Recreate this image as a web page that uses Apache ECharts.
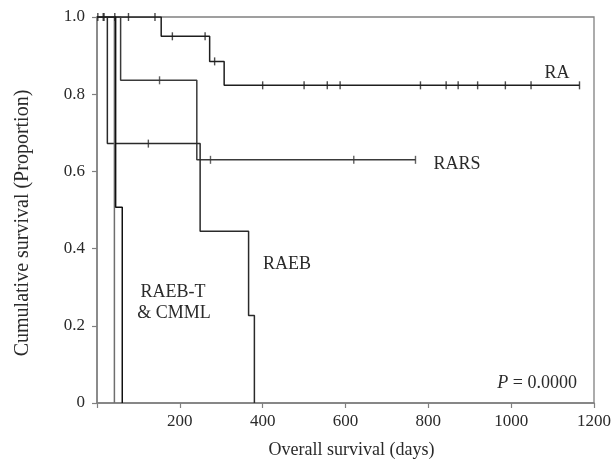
<!DOCTYPE html>
<html>
<head>
<meta charset="utf-8">
<script src="https://cdn.jsdelivr.net/npm/echarts@6/dist/echarts.min.js"></script>
<style>
html,body{margin:0;padding:0;background:#fff;}
#chart{width:614px;height:464px;}
</style>
</head>
<body>
<div id="chart"></div>
<script>
// step curves: [day, cumulative survival]
var raCurve = [[0, 1], [155, 0.95], [272, 0.885], [307, 0.823], [1165, 0.823]];
var rarsCurve = [[0, 1], [57, 0.836], [241, 0.63], [769, 0.63]];
var raebCurve = [[0, 1], [25, 0.672], [249, 0.445], [366, 0.227], [380, 0]];
var raebtCurve = [[0, 1], [42, 0]];
var cmmlCurve = [[0, 1], [45, 0.507], [61, 0]];

// censored cases (days)
var raCensor = [2, 15, 17, 43, 76, 140, 182, 261, 284, 400, 500, 556, 587, 781, 843, 872, 919, 986, 1048, 1165];
var rarsCensor = [151, 274, 620, 769];
var raebCensor = [124];

var xTicks = [0, 200, 400, 600, 800, 1000, 1200];
var yTicks = [0, 0.2, 0.4, 0.6, 0.8, 1.0];

var FONT = '"Liberation Serif", "Times New Roman", serif';

// survival value of a step curve at time t
function stepValue(curve, t){
	var v = curve[0][1];
	for(var i=0;i<curve.length;i++){
		if(curve[i][0] <= t){
			v = curve[i][1];
		}
	}
	return v;
}
function censorPoints(curve, days){
	var pts = [];
	for(var i=0;i<days.length;i++){
		pts.push([days[i], stepValue(curve, days[i])]);
	}
	return pts;
}

function kmLine(name, data, color){
	return {
		name: name,
		type: 'line',
		step: 'end',
		data: data,
		showSymbol: false,
		lineStyle: {color: color, width: 1.5},
		z: 3
	};
}
function censorMarks(name, data, color){
	return {
		name: name,
		type: 'scatter',
		data: data,
		symbol: 'rect',
		symbolSize: [1.4, 8],
		itemStyle: {color: color},
		z: 4
	};
}

var myChart = echarts.init(document.getElementById('chart'));
var option = {
	animation: false,
	grid: {
		left: 97, right: 15.5, top: 17, bottom: 58,
		show: true, borderColor: '#808080', borderWidth: 1.3
	},
	xAxis: {
		type: 'value',
		min: xTicks[0], max: xTicks[xTicks.length-1], interval: 200,
		name: 'Overall survival (days)',
		nameLocation: 'middle',
		nameGap: 38,
		nameTextStyle: {fontFamily: FONT, fontSize: 18, color: '#2a2a2a', padding: [0, 0, 0, 12]},
		axisLine: {show: true, lineStyle: {color: '#808080', width: 1.5}},
		axisTick: {show: true, length: 5, lineStyle: {color: '#808080', width: 1.2}},
		axisLabel: {
			fontFamily: FONT, fontSize: 17, color: '#2a2a2a', margin: 10,
			formatter: function(v){ return v === 0 ? '' : String(v); }
		},
		splitLine: {show: false}
	},
	yAxis: {
		type: 'value',
		min: 0, max: 1, interval: 0.2,
		axisLine: {show: true, lineStyle: {color: '#808080', width: 1.5}},
		axisTick: {show: true, length: 5, lineStyle: {color: '#808080', width: 1.2}},
		axisLabel: {
			fontFamily: FONT, fontSize: 17, color: '#2a2a2a', margin: 12,
			formatter: function(v){ return v === 0 ? '0' : v.toFixed(1); }
		},
		splitLine: {show: false}
	},
	series: [
		kmLine('RA', raCurve, '#1e1e1e'),
		kmLine('RARS', rarsCurve, '#3a3a3a'),
		kmLine('RAEB', raebCurve, '#2a2a2a'),
		kmLine('RAEB-T', raebtCurve, '#6e6e6e'),
		kmLine('CMML', cmmlCurve, '#111'),
		censorMarks('RA', censorPoints(raCurve, raCensor), '#1e1e1e'),
		censorMarks('RARS', censorPoints(rarsCurve, rarsCensor), '#3a3a3a'),
		censorMarks('RAEB', censorPoints(raebCurve, raebCensor), '#2a2a2a')
	],
	graphic: [
		{type: 'text', x: 23, y: 223, rotation: Math.PI / 2, style: {text: 'Cumulative survival (Proportion)', fontFamily: FONT, fontSize: 20, fill: '#2a2a2a', align: 'center', verticalAlign: 'middle'}},
		{type: 'text', x: 557, y: 73, style: {text: 'RA', fontFamily: FONT, fontSize: 18, fill: '#2a2a2a', align: 'center', verticalAlign: 'middle'}},
		{type: 'text', x: 457, y: 164, style: {text: 'RARS', fontFamily: FONT, fontSize: 18, fill: '#2a2a2a', align: 'center', verticalAlign: 'middle'}},
		{type: 'text', x: 287, y: 264, style: {text: 'RAEB', fontFamily: FONT, fontSize: 18, fill: '#2a2a2a', align: 'center', verticalAlign: 'middle'}},
		{type: 'text', x: 173, y: 292, style: {text: 'RAEB-T', fontFamily: FONT, fontSize: 18, fill: '#2a2a2a', align: 'center', verticalAlign: 'middle'}},
		{type: 'text', x: 174, y: 313, style: {text: '& CMML', fontFamily: FONT, fontSize: 18, fill: '#2a2a2a', align: 'center', verticalAlign: 'middle'}},
		{type: 'text', x: 577, y: 383, style: {
			text: '{i|P} = 0.0000',
			fontFamily: FONT, fontSize: 18, fill: '#2a2a2a', align: 'right', verticalAlign: 'middle',
			rich: {i: {fontFamily: FONT, fontSize: 18, fontStyle: 'italic', fill: '#2a2a2a'}}
		}}
	]
};
myChart.setOption(option);

window.addEventListener('resize', function(){
	if(myChart) myChart.resize();
});
</script>
</body>
</html>
